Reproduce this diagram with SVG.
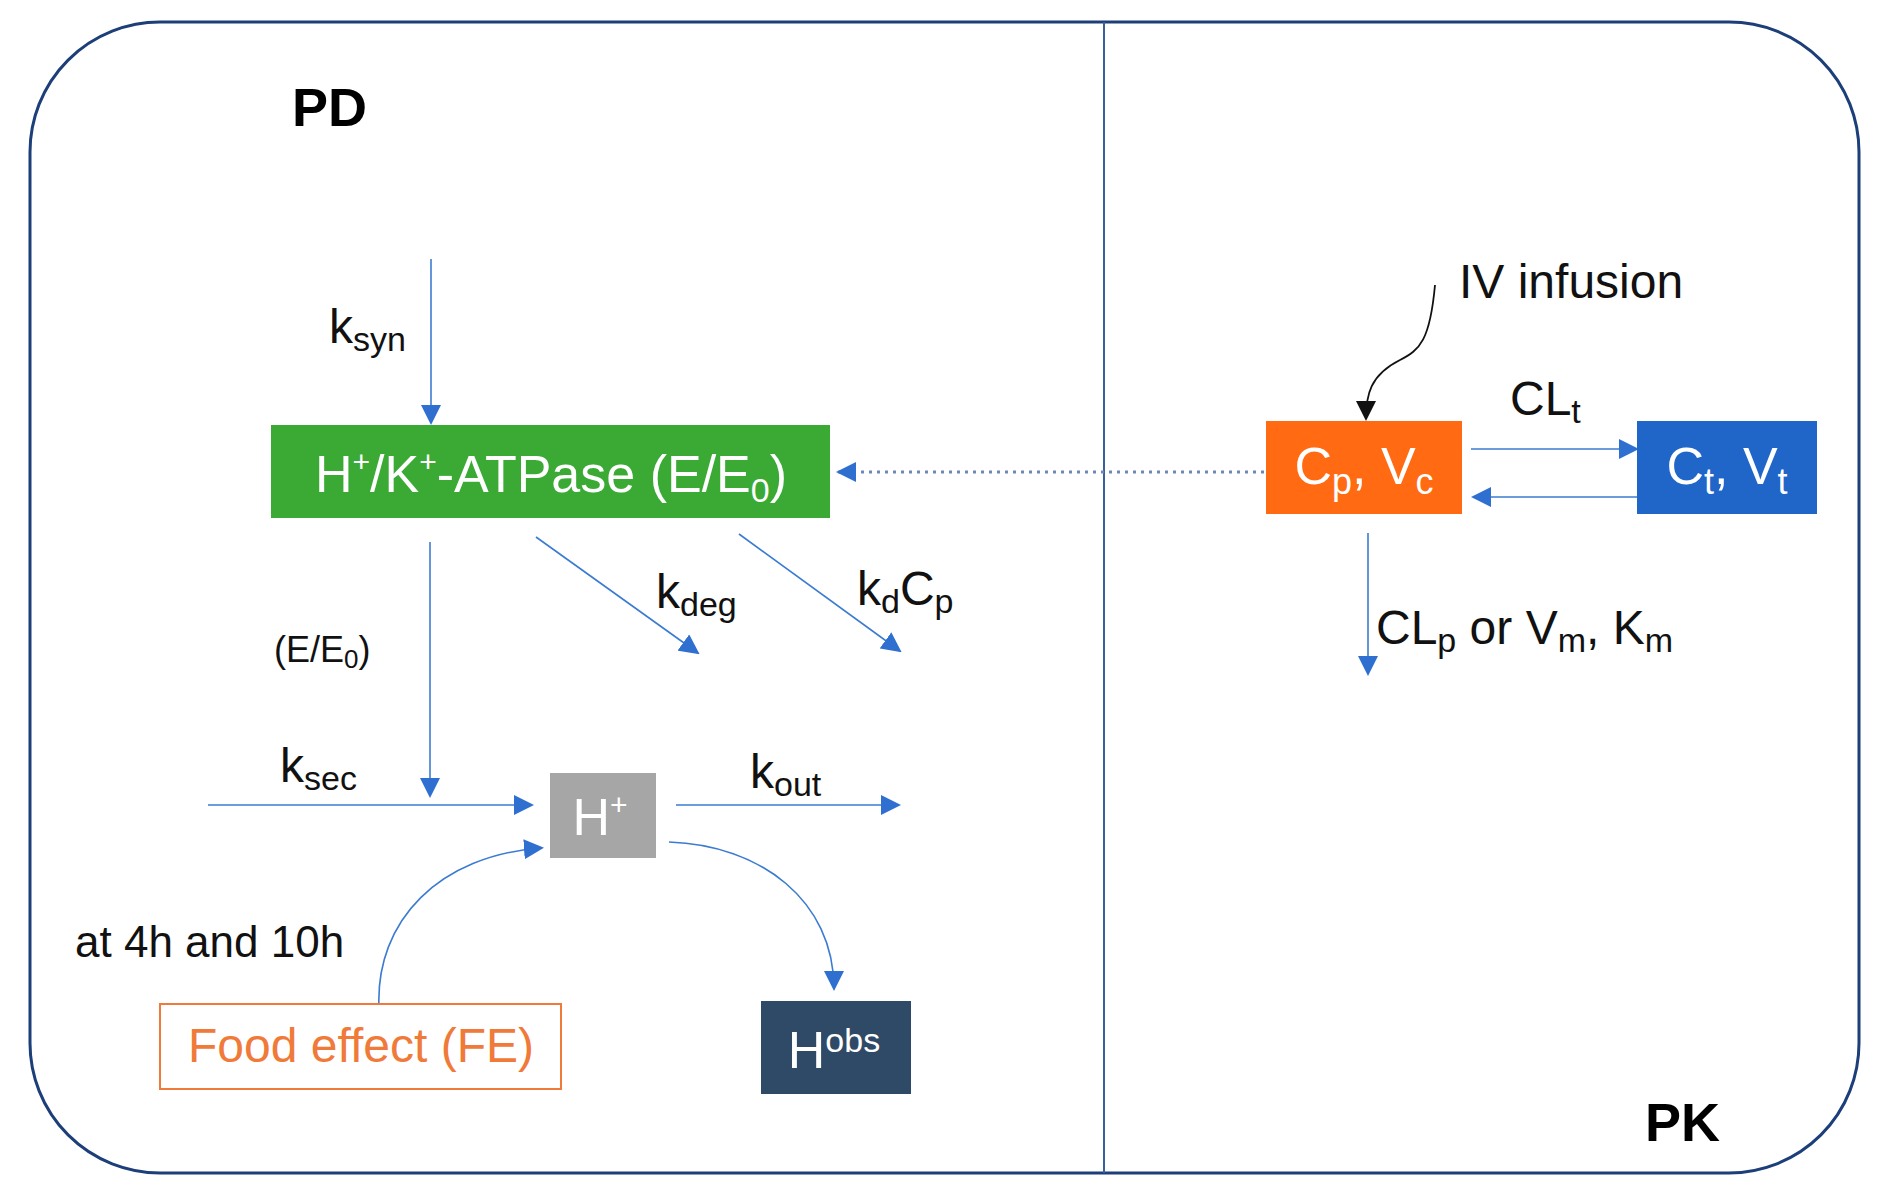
<svg xmlns="http://www.w3.org/2000/svg" width="1887" height="1195" viewBox="0 0 1887 1195">
<style>
text{font-family:"Liberation Sans",Arial,sans-serif}
.lbl{font-size:48px;fill:#111}
.sub{font-size:34px}
.wt{fill:#fff;font-size:52px}
.con{stroke:#3b7bd1;stroke-width:1.6;fill:none}
</style>
<defs>
<marker id="a" viewBox="0 0 10 10" refX="9" refY="5" markerWidth="9" markerHeight="9" markerUnits="userSpaceOnUse" orient="auto"><path d="M0,0L10,5L0,10z" fill="#2f6fd0"/></marker>
<marker id="b" viewBox="0 0 10 10" refX="9" refY="5" markerWidth="20" markerHeight="20" markerUnits="userSpaceOnUse" orient="auto"><path d="M0,0L10,5L0,10z" fill="#2f6fd0"/></marker>
<marker id="k" viewBox="0 0 10 10" refX="9" refY="5" markerWidth="20" markerHeight="20" markerUnits="userSpaceOnUse" orient="auto"><path d="M0,0L10,5L0,10z" fill="#111"/></marker>
</defs>
<rect width="1887" height="1195" fill="#fff"/>
<rect x="30" y="22" width="1829" height="1151" rx="130" fill="none" stroke="#1c3f7a" stroke-width="3"/>
<line x1="1104" y1="22" x2="1104" y2="1173" stroke="#3a5f9a" stroke-width="2"/>
<text x="292" y="126" font-size="54" font-weight="bold" fill="#000">PD</text>
<text x="1645" y="1141" font-size="54" font-weight="bold" fill="#000">PK</text>
<g id="connectors">
<line class="con" x1="431" y1="259" x2="431" y2="423" marker-end="url(#b)"/>
<line class="con" x1="430" y1="542" x2="430" y2="796" marker-end="url(#b)"/>
<line class="con" x1="536" y1="537" x2="698" y2="653" marker-end="url(#b)"/>
<line class="con" x1="739" y1="534" x2="900" y2="651" marker-end="url(#b)"/>
<line class="con" x1="208" y1="805" x2="532" y2="805" marker-end="url(#b)"/>
<line class="con" x1="676" y1="805" x2="899" y2="805" marker-end="url(#b)"/>
<path class="con" d="M379,1008 C375,920 440,855 542,848" marker-end="url(#b)"/>
<path class="con" d="M669,842 C760,845 834,900 834,989" marker-end="url(#b)"/>
<line x1="1264" y1="472" x2="838" y2="472" stroke="#6f87b8" stroke-width="3" stroke-dasharray="3,5" marker-end="url(#b)"/>
<path d="M1435,285 C1430,340 1420,350 1400,360 C1370,375 1366,395 1366,419" fill="none" stroke="#111" stroke-width="1.8" marker-end="url(#k)"/>
<line class="con" x1="1471" y1="449" x2="1637" y2="449" marker-end="url(#b)"/>
<line class="con" x1="1637" y1="497" x2="1473" y2="497" marker-end="url(#b)"/>
<line class="con" x1="1368" y1="533" x2="1368" y2="674" marker-end="url(#b)"/>
</g>
<text class="lbl" x="329" y="343">k<tspan class="sub" dy="8">syn</tspan></text>
<text x="274" y="662" font-size="36" fill="#111">(E/E<tspan font-size="26" dy="6">0</tspan><tspan dy="-6">)</tspan></text>
<text class="lbl" x="656" y="608">k<tspan class="sub" dy="8">deg</tspan></text>
<text class="lbl" x="857" y="605">k<tspan class="sub" dy="8">d</tspan><tspan dy="-8">C</tspan><tspan class="sub" dy="8">p</tspan></text>
<text class="lbl" x="280" y="782">k<tspan class="sub" dy="8">sec</tspan></text>
<text class="lbl" x="750" y="788">k<tspan class="sub" dy="8">out</tspan></text>
<text x="75" y="957" font-size="44" fill="#111">at 4h and 10h</text>
<text class="lbl" x="1459" y="298" font-size="52">IV infusion</text>
<text class="lbl" x="1510" y="415">CL<tspan class="sub" dy="8">t</tspan></text>
<text class="lbl" x="1376" y="644">CL<tspan class="sub" dy="8">p</tspan><tspan dy="-8"> or V</tspan><tspan class="sub" dy="8">m</tspan><tspan dy="-8">, K</tspan><tspan class="sub" dy="8">m</tspan></text>
<g id="atpase"><rect x="271" y="425" width="559" height="93" fill="#3aaa35"/>
<text class="wt" x="551" y="492" text-anchor="middle">H<tspan font-size="30" dy="-20">+</tspan><tspan dy="20">/K</tspan><tspan font-size="30" dy="-20">+</tspan><tspan dy="20">-ATPase (E/E</tspan><tspan font-size="34" dy="10">0</tspan><tspan dy="-10">)</tspan></text></g>
<g id="hplus"><rect x="550" y="773" width="106" height="85" fill="#a6a6a6"/>
<text class="wt" x="600" y="835" text-anchor="middle">H<tspan font-size="30" dy="-20">+</tspan></text></g>
<g id="food"><rect x="160" y="1004" width="401" height="85" fill="#fff" stroke="#f07a3a" stroke-width="2"/>
<text x="361" y="1062" font-size="48" fill="#f07a3a" text-anchor="middle">Food effect (FE)</text></g>
<g id="hobs"><rect x="761" y="1001" width="150" height="93" fill="#2f4a66"/>
<text class="wt" x="834" y="1068" text-anchor="middle">H<tspan font-size="34" dy="-16">obs</tspan></text></g>
<g id="cp"><rect x="1266" y="421" width="196" height="93" fill="#ff6a13"/>
<text class="wt" x="1364" y="484" text-anchor="middle">C<tspan font-size="36" dy="10">p</tspan><tspan dy="-10">, V</tspan><tspan font-size="36" dy="10">c</tspan></text></g>
<g id="ct"><rect x="1637" y="421" width="180" height="93" fill="#1f66c8"/>
<text class="wt" x="1727" y="484" text-anchor="middle">C<tspan font-size="36" dy="10">t</tspan><tspan dy="-10">, V</tspan><tspan font-size="36" dy="10">t</tspan></text></g>
</svg>
